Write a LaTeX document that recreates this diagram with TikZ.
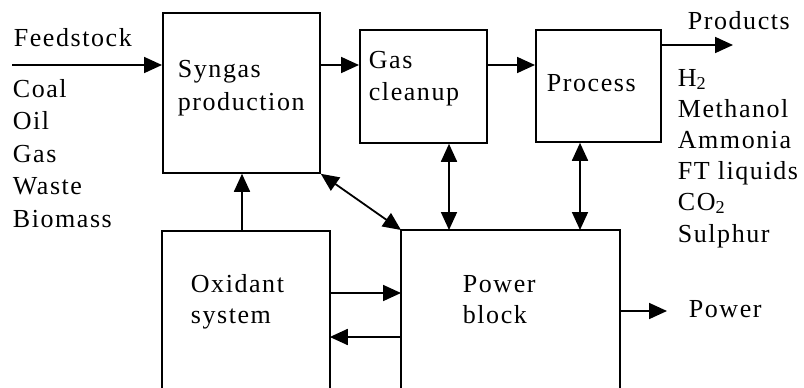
\documentclass[tikz,border=0pt]{standalone}
\usepackage{fontspec}
\setmainfont{Liberation Serif}[LetterSpace=6]
\usetikzlibrary{arrows.meta}
\begin{document}
\begin{tikzpicture}[x=1pt,y=-1pt,line width=1.8pt,
  txt/.style={anchor=base west,inner sep=0pt,font=\fontsize{26}{32}\selectfont},
  box/.style={draw,line width=1.8pt,inner sep=0pt,anchor=north west},
  openbox/.style={inner sep=0pt,anchor=north west},
  arr/.style={-{Triangle[length=18pt,width=16pt]}},
  darr/.style={{Triangle[length=18pt,width=16pt]}-{Triangle[length=18pt,width=16pt]}}]
\useasboundingbox (0,0) rectangle (804,388);
% boxes
\node[box,minimum width=157pt,minimum height=160pt] (syn) at (162,12) {};
\node[box,minimum width=127pt,minimum height=113pt] (gc) at (359,29) {};
\node[box,minimum width=125pt,minimum height=112pt] (proc) at (535,29) {};
\node[openbox,minimum width=166pt,minimum height=157pt] (ox) at (162,231) {};
\node[openbox,minimum width=217pt,minimum height=158pt] (pw) at (401,230) {};
\draw (ox.south west) -- (ox.north west) -- (ox.north east) -- (ox.south east);
\draw (pw.south west) -- (pw.north west) -- (pw.north east) -- (pw.south east);
% helper coordinates
\coordinate (fs) at (12,65);
\coordinate (r1) at (0,65);
\coordinate (prodend) at (733,45);
\coordinate (c1) at (242,0);
\coordinate (c2) at (449,0);
\coordinate (c3) at (580,0);
\coordinate (h1) at (0,293);
\coordinate (h2) at (0,337);
\coordinate (pwend) at (667,311);
% connectors
\draw[arr] (fs) -- (syn.west |- fs);
\draw[arr] (syn.east |- r1) -- (gc.west |- r1);
\draw[arr] (gc.east |- r1) -- (proc.west |- r1);
\draw[arr] (proc.east |- prodend) -- (prodend);
\draw[arr] (ox.north -| c1) -- (syn.south -| c1);
\draw[darr] (syn.south east) -- (pw.north west);
\draw[darr] (gc.south -| c2) -- (pw.north -| c2);
\draw[darr] (proc.south -| c3) -- (pw.north -| c3);
\draw[arr] (ox.east |- h1) -- (pw.west |- h1);
\draw[arr] (pw.west |- h2) -- (ox.east |- h2);
\draw[arr] (pw.east |- pwend) -- (pwend);
% texts
\node[txt] (tfeed) at (13,46) {Feedstock};
\node[txt] (tcoal) at (12,97) {Coal};
\node[txt] (toil) at (12,129.5) {Oil};
\node[txt] (tgas) at (12,162) {Gas};
\node[txt] (twaste) at (12,194.5) {Waste};
\node[txt] (tbio) at (12,227) {Biomass};
\node[txt] (tsyn1) at (177,77) {Syngas};
\node[txt] (tsyn2) at (177,110) {production};
\node[txt] (tgc1) at (368,68) {Gas};
\node[txt] (tgc2) at (368,100) {cleanup};
\node[txt] (tproc) at (546,91) {Process};
\node[txt] (tprod) at (687,30) {Products};
\node[txt] (th2) at (677,86) {H\textsubscript{2}};
\node[txt] (tmeth) at (677,117) {Methanol};
\node[txt] (tamm) at (677,148) {Ammonia};
\node[txt] (tft) at (677,179) {FT liquids};
\node[txt] (tco2) at (677,210) {CO\textsubscript{2}};
\node[txt] (tsul) at (677,242) {Sulphur};
\node[txt] (tox1) at (190,292) {Oxidant};
\node[txt] (tox2) at (190,323) {system};
\node[txt] (tpw1) at (462,292) {Power};
\node[txt] (tpw2) at (462,323) {block};
\node[txt] (tpwout) at (688,317) {Power};
\end{tikzpicture}
\end{document}
